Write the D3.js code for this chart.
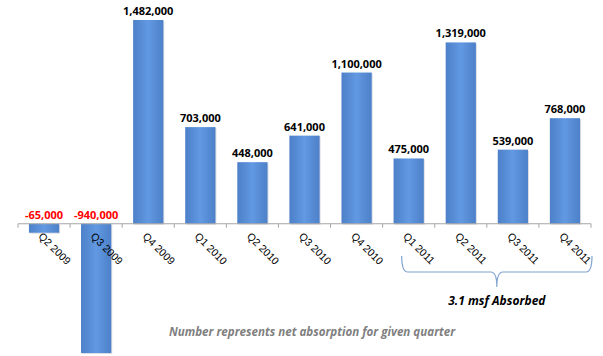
<!DOCTYPE html>
<html>
<head>
<meta charset="utf-8">
<script src="https://cdn.jsdelivr.net/npm/d3@7"></script>
<style>
  body { margin: 0; background: #fff; }
  svg { display: block; font-family: "Open Sans", "Liberation Sans", sans-serif; }
</style>
</head>
<body>
<div id="chart"></div>
<script>
// data
var quarters = ["Q2 2009", "Q3 2009", "Q4 2009", "Q1 2010", "Q2 2010", "Q3 2010",
                "Q4 2010", "Q1 2011", "Q2 2011", "Q3 2011", "Q4 2011"];
var absorption = [-65000, -940000, 1482000, 703000, 448000, 641000,
                  1100000, 475000, 1319000, 539000, 768000];
var bracketFrom = "Q1 2011", bracketTo = "Q4 2011";
var bracketLabel = "3.1 msf Absorbed";
var footNote = "Number represents net absorption for given quarter";

var W = 603, H = 356;
var svg = d3.select("#chart").append("svg")
  .attr("width", W).attr("height", H);

var x = d3.scaleBand()
  .domain(quarters)
  .range([18, 591])
  .paddingInner(0.42)
  .paddingOuter(0.21);

var y = d3.scaleLinear()
  .domain([-940000, 1482000])
  .range([353, 20]);

// gradient for bars
var defs = svg.append("defs");
var grad = defs.append("linearGradient").attr("id", "barGrad")
  .attr("x1", "0%").attr("x2", "100%").attr("y1", "0%").attr("y2", "0%");
grad.append("stop").attr("offset", "0%").attr("stop-color", "#4d80c8");
grad.append("stop").attr("offset", "50%").attr("stop-color", "#6199e2");
grad.append("stop").attr("offset", "100%").attr("stop-color", "#4d80c8");

var data = quarters.map(function(q, i) { return { q: q, v: absorption[i] }; });

// bar shadow
svg.selectAll(".shadow")
  .data(data)
  .enter().append("rect")
  .attr("class", "shadow")
  .attr("x", d => x(d.q) + 1)
  .attr("y", d => Math.min(y(d.v), y(0)) + 1)
  .attr("width", x.bandwidth())
  .attr("height", d => Math.abs(y(d.v) - y(0)))
  .attr("fill", "#c9cfd8")
  .attr("opacity", 0.7);

svg.selectAll(".bar")
  .data(data)
  .enter().append("rect")
  .attr("class", "bar")
  .attr("x", d => x(d.q))
  .attr("y", d => Math.min(y(d.v), y(0)))
  .attr("width", x.bandwidth())
  .attr("height", d => Math.abs(y(d.v) - y(0)))
  .attr("fill", "url(#barGrad)");

// axis
var axis = d3.axisBottom(x).tickSize(0).tickFormat("");
var axisG = svg.append("g")
  .attr("transform", "translate(0," + y(0) + ")")
  .call(axis);
axisG.select(".domain").attr("stroke", "#a6a6a6").attr("d", "M18,0H591");

// tick marks between categories
var step = x.step();
var bounds = d3.range(quarters.length + 1).map(i => 18 + i * step);
axisG.selectAll(".sep")
  .data(bounds)
  .enter().append("line")
  .attr("x1", d => d).attr("x2", d => d)
  .attr("y1", 0).attr("y2", 4)
  .attr("stroke", "#a6a6a6");

// category labels (rotated)
axisG.selectAll(".qlab")
  .data(quarters)
  .enter().append("text")
  .attr("transform", d => "translate(" + (x(d) + x.bandwidth() / 2 - 1) + ",8) rotate(45)")
  .attr("text-anchor", "start")
  .attr("dy", "0.7em")
  .style("font-size", "10.5px")
  .style("fill", "#000")
  .text(d => d);

// value labels (plain hyphen for negatives)
var fmt = d3.formatLocale({ decimal: ".", thousands: ",", grouping: [3], currency: ["$", ""], minus: "-" }).format(",");
svg.selectAll(".val")
  .data(data)
  .enter().append("text")
  .attr("x", d => x(d.q) + x.bandwidth() / 2)
  .attr("y", d => d.v >= 0 ? y(d.v) - 5 : y(0) - 5)
  .attr("text-anchor", "middle")
  .style("font-size", "11px")
  .style("font-weight", "bold")
  .style("fill", d => d.v >= 0 ? "#000" : "#ff0000")
  .text(d => fmt(d.v));

// bracket
var bx0 = x(bracketFrom) + x.bandwidth() / 2 - 7;
var bx1 = 592;
var bm = (bx0 + bx1) / 2;
var by0 = 256, by1 = 272, by2 = 287;
var path = d3.path();
path.moveTo(bx0, by0);
path.quadraticCurveTo(bx0, by1, bx0 + 6, by1);
path.lineTo(bm - 6, by1);
path.quadraticCurveTo(bm, by1, bm, by2);
path.quadraticCurveTo(bm, by1, bm + 6, by1);
path.lineTo(bx1 - 6, by1);
path.quadraticCurveTo(bx1, by1, bx1, by0);
svg.append("path")
  .attr("d", path.toString())
  .attr("fill", "none")
  .attr("stroke", "#7fa3cf")
  .attr("stroke-width", 1.2);

svg.append("text")
  .attr("x", bm)
  .attr("y", 305)
  .attr("text-anchor", "middle")
  .style("font-size", "12px")
  .style("font-weight", "bold")
  .style("font-style", "italic")
  .style("fill", "#000")
  .text(bracketLabel);

svg.append("text")
  .attr("x", 312)
  .attr("y", 336)
  .attr("text-anchor", "middle")
  .style("font-size", "11.6px")
  .style("font-weight", "bold")
  .style("font-style", "italic")
  .style("fill", "#808080")
  .text(footNote);
</script>
</body>
</html>
